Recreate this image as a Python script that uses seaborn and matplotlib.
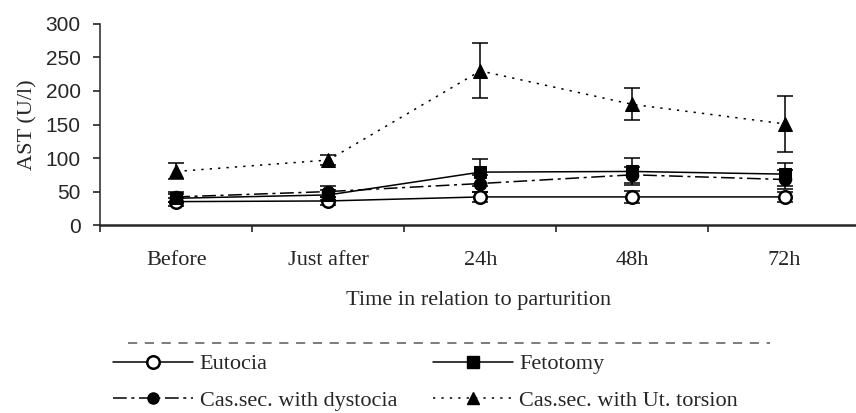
import numpy as np
import pandas as pd
import matplotlib.pyplot as plt
import seaborn as sns
from matplotlib.lines import Line2D

times = ['Before', 'Just after', '24h', '48h', '72h']
groups = ['Eutocia', 'Fetotomy', 'Cas.sec. with dystocia', 'Cas.sec. with Ut. torsion']

eutocia = [35, 36, 42, 42, 42]
eutocia_err = [6, 6, 8, 9, 8]
fetotomy = [40, 45, 79, 80, 76]
fetotomy_err = [6, 7, 20, 20, 17]
dystocia = [42, 50, 62, 75, 68]
dystocia_err = [7, 8, 12, 12, 14]
torsion = [80, 97, 230, 180, 151]
torsion_err = [12, 8, 41, 24, 42]

values = [eutocia, fetotomy, dystocia, torsion]
errors = [eutocia_err, fetotomy_err, dystocia_err, torsion_err]

rows = []
for g, v, e in zip(groups, values, errors):
    for i, t in enumerate(times):
        rows.append({'pos': i, 'time': t, 'group': g, 'AST': v[i], 'err': e[i]})
df = pd.DataFrame(rows)

sns.set_style('ticks')
plt.rcParams['font.family'] = ['Liberation Serif', 'DejaVu Serif']

fig, ax = plt.subplots(figsize=(8.56, 4.13), dpi=100)
fig.subplots_adjust(left=0.117, right=1.0, top=0.942, bottom=0.455)

markers = {groups[0]: 'o', groups[1]: 's', groups[2]: 'o', groups[3]: '^'}
dashes = {groups[0]: '', groups[1]: '', groups[2]: (9, 3, 2, 3), groups[3]: (1.5, 4)}
sns.lineplot(data=df, x='pos', y='AST', style='group', markers=markers, dashes=dashes,
             color='black', linewidth=1.1, markersize=9, ax=ax, legend=False, zorder=3)

lines = ax.get_lines()
for line in lines:
    line.set_markeredgecolor('black')
# eutocia: open circles
lines[0].set_markerfacecolor('white')
lines[0].set_markeredgewidth(1.8)
lines[3].set_markersize(10)

for g in groups:
    sub = df[df['group'] == g]
    ax.errorbar(sub['pos'], sub['AST'], yerr=sub['err'], fmt='none', ecolor='black',
                elinewidth=1.1, capsize=6, capthick=1.1, zorder=2)

ax.set_ylim(0, 300)
ax.set_xlim(-0.5, 4.47)
ax.set_yticks(range(0, 301, 50))
ax.set_xticks(range(len(times)))
ax.set_xticklabels(times)
ax.set_xticks(np.arange(-0.5, 4.5, 1.0), minor=True)
ax.tick_params(axis='x', which='major', length=0, pad=19, labelsize=16)
ax.tick_params(axis='x', which='minor', length=5, width=1.2, direction='out')
ax.tick_params(axis='y', length=5, width=1.2, direction='out', pad=9,
               labelsize=15, labelfontfamily='Liberation Sans')
sns.despine(ax=ax)
ax.spines['bottom'].set_linewidth(1.8)
ax.spines['left'].set_linewidth(1.1)

ax.set_xlabel('Time in relation to parturition', fontsize=16, labelpad=14.5)
ax.set_ylabel('AST (U/l)', fontsize=16, labelpad=6)

h_eut = Line2D([], [], color='black', lw=1.1, marker='o', markerfacecolor='white',
               markeredgecolor='black', markeredgewidth=1.8, markersize=9)
h_fet = Line2D([], [], color='black', lw=1.1, marker='s', markersize=8)
h_dys = Line2D([], [], color='black', lw=1.1, marker='o', markersize=8, dashes=(9, 3, 2, 3))
h_tor = Line2D([], [], color='black', lw=1.1, marker='^', markersize=9, dashes=(1.5, 4))
# ncol=2 fills by column, so order gives rows: Eutocia/Fetotomy, dystocia/torsion
fig.legend([h_eut, h_dys, h_fet, h_tor],
           [groups[0], groups[2], groups[1], groups[3]],
           loc='upper left', bbox_to_anchor=(0.132, 0.143), ncol=2, frameon=False,
           prop={'family': 'Liberation Serif', 'size': 16}, borderpad=0, borderaxespad=0,
           handlelength=3.6, columnspacing=1.6, labelspacing=0.7, handletextpad=0.3)

fig.add_artist(Line2D([0.15, 0.9], [0.1695, 0.1695], transform=fig.transFigure,
                      color='0.35', lw=1.1, dashes=(6, 5)))

fig.savefig('out.png', dpi=100)
